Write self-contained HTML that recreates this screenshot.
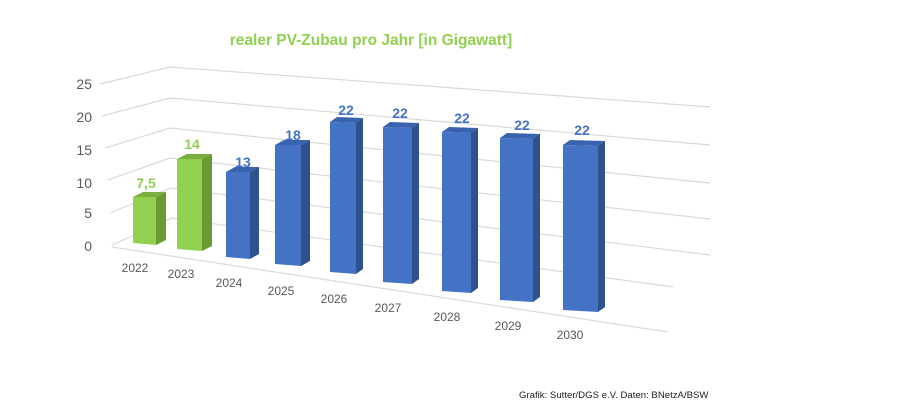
<!DOCTYPE html>
<html><head><meta charset="utf-8"><style>
html,body{margin:0;padding:0;background:#fff;}
svg{display:block;}
text{font-family:"Liberation Sans",sans-serif;}
</style></head><body>
<svg width="900" height="417" viewBox="0 0 900 417" xmlns="http://www.w3.org/2000/svg">
<rect width="900" height="417" fill="#fff"/>
<text x="371" y="45" text-anchor="middle" font-size="15.5" font-weight="bold" fill="#92d050">realer PV-Zubau pro Jahr [in Gigawatt]</text>
<g stroke="#d9d9d9" stroke-width="1.2" fill="none">
<polyline points="100,84 170,67 710,107"/>
<polyline points="102,116 170,98 710,145"/>
<polyline points="105,148 170,128 710,183"/>
<polyline points="108,180 170,158 710,219"/>
<polyline points="110,213 171,188 710,255"/>
<polyline points="112,245 172,218 673,287"/>
<line x1="112" y1="247" x2="668" y2="332"/>
</g>
<g font-size="14" fill="#595959" text-anchor="end">
<text x="92" y="89">25</text><text x="92" y="122">20</text><text x="92" y="155">15</text>
<text x="92" y="188">10</text><text x="92" y="218">5</text><text x="92" y="251">0</text>
</g>
<g>
<polygon points="133,197 156,197 166,192 143,192" fill="#7aae3e"/>
<polygon points="156,197 166,192 166,240 156,245" fill="#6a9a30"/>
<polygon points="133,197 156,197 156,245 133,243" fill="#92d050"/>

<polygon points="177,159 202,159 212,154 187,154" fill="#7aae3e"/>
<polygon points="202,159 212,154 212,246 202,251" fill="#6a9a30"/>
<polygon points="177,159 202,159 202,251 177,249" fill="#92d050"/>

<polygon points="226,172 250,172 259,167 235,167" fill="#3a63ad"/>
<polygon points="250,172 259,167 259,254 250,259" fill="#2f528f"/>
<polygon points="226,172 250,172 250,259 226,257" fill="#4472c4"/>

<polygon points="275,145 301,145 310,140 284,140" fill="#3a63ad"/>
<polygon points="301,145 310,140 310,261 301,266" fill="#2f528f"/>
<polygon points="275,145 301,145 301,266 275,264" fill="#4472c4"/>

<polygon points="330,122 356,123 363,118 337,117" fill="#3a63ad"/>
<polygon points="356,123 363,118 363,269 356,274" fill="#2f528f"/>
<polygon points="330,122 356,123 356,274 330,272" fill="#4472c4"/>

<polygon points="383,127 412,128 419,123 390,122" fill="#3a63ad"/>
<polygon points="412,128 419,123 419,279 412,284" fill="#2f528f"/>
<polygon points="383,127 412,128 412,284 383,282" fill="#4472c4"/>

<polygon points="442,132 471,133 478,128 449,127" fill="#3a63ad"/>
<polygon points="471,133 478,128 478,288 471,293" fill="#2f528f"/>
<polygon points="442,132 471,133 471,293 442,291" fill="#4472c4"/>

<polygon points="500,138 533,139 540,134 507,133" fill="#3a63ad"/>
<polygon points="533,139 540,134 540,297 533,302" fill="#2f528f"/>
<polygon points="500,138 533,139 533,302 500,300" fill="#4472c4"/>

<polygon points="563,145 598,146 605,141 570,140" fill="#3a63ad"/>
<polygon points="598,146 605,141 605,307 598,312" fill="#2f528f"/>
<polygon points="563,145 598,146 598,312 563,310" fill="#4472c4"/>
</g>
<g font-size="14" font-weight="bold" text-anchor="middle">
<text x="146" y="188" fill="#92d050">7,5</text>
<text x="192" y="149" fill="#92d050">14</text>
<text x="243" y="167" fill="#4472c4">13</text>
<text x="293" y="140" fill="#4472c4">18</text>
<text x="346" y="115" fill="#4472c4">22</text>
<text x="400" y="118" fill="#4472c4">22</text>
<text x="462" y="123" fill="#4472c4">22</text>
<text x="522" y="130" fill="#4472c4">22</text>
<text x="582" y="135" fill="#4472c4">22</text>
</g>
<g font-size="12" fill="#595959" text-anchor="middle">
<text x="135" y="272">2022</text><text x="181" y="278">2023</text><text x="229" y="287">2024</text>
<text x="281" y="295">2025</text><text x="334" y="303">2026</text><text x="388" y="312">2027</text>
<text x="447" y="321">2028</text><text x="508" y="330">2029</text><text x="570" y="339">2030</text>
</g>
<text x="519" y="398" font-size="9.6" fill="#222">Grafik: Sutter/DGS e.V. Daten: BNetzA/BSW</text>
</svg>
</body></html>
